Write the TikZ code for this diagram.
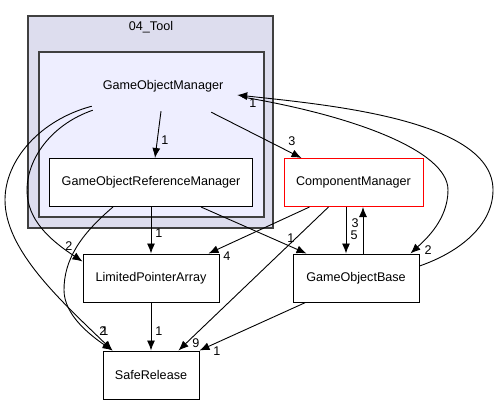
\documentclass[tikz,border=0pt]{standalone}
\usepackage{fontspec}
\setmainfont{Liberation Sans}
\usepackage{tikz}
\usetikzlibrary{calc}
\usetikzlibrary{arrows.meta}
\definecolor{clusterOut}{HTML}{DDDDEE}
\definecolor{clusterIn}{HTML}{EEEEFF}
\definecolor{clusterLine}{HTML}{404040}
\tikzset{
  cluster/.style = {draw=clusterLine, fill=#1, line width=1.6pt},
  box/.style = {draw=#1, fill=white, line width=1pt, minimum height=48pt, inner sep=0pt},
  plain/.style = {inner sep=0pt, minimum width=150pt, minimum height=50pt},
  dep/.style = {color=#1, line width=0.9pt, -{Latex[length=10pt,width=8pt]}},
  num/.style = {inner sep=0pt}
}

\begin{document}
\begin{tikzpicture}[x=1pt, y=-1pt, font=\fontsize{12.6}{15}\selectfont]

    \useasboundingbox (0,0) rectangle (498,404);

    % Clusters
    \draw[cluster={clusterOut}] (28,16) rectangle (273,228);
    \node[num] (toolLabel) at (151,27) {04\_Tool};
    \draw[cluster={clusterIn}] (39,52) rectangle (264,217);

    % Nodes
    \node[plain] (gom) at (163,86) {GameObjectManager};
    \node[box={black}, minimum width=203pt] (gorm) at (151,182.5) {GameObjectReferenceManager};
    \node[box={red}, minimum width=139pt] (cm) at (353.5,182.5) {ComponentManager};
    \node[box={black}, minimum width=126pt] (gob) at (356,278) {GameObjectBase};
    \node[box={black}, minimum width=136pt] (lpa) at (151,278) {LimitedPointerArray};
    \node[box={black}, minimum width=96pt] (sr) at (151,375) {SafeRelease};

    % Dependencies from GameObjectManager
    \draw[dep={black}] ($(gom.south)+(-2,0)$) -- ($(gorm.north)+(4,0)$);
    \draw[dep={black}] ($(gom.south east)+(-27,1)$) -- ($(cm.north west)+(18,0)$);
    \draw[dep={black}] ($(gom.east)+(4,11)$) .. controls (350,115) and (448,150) .. (448,190)
        .. controls (448,220) and (425,240) .. ($(gob.north east)+(-9,0)$);
    \draw[dep={black}] ($(gom.south west)+(5,-1)$) .. controls (50,125) and (27,160) .. (27,190)
        .. controls (27,220) and (50,240) .. ($(lpa.north west)+(0,8)$);
    \draw[dep={black}] ($(gom.south west)+(4,-5)$) .. controls (40,120) and (5,160) .. (5,200)
        .. controls (5,250) and (60,300) .. ($(sr.north west)+(10,0)$);

    % Dependencies from GameObjectReferenceManager
    \draw[dep={black}] (gorm) -- (lpa);
    \draw[dep={black}] ($(gorm.south)+(-38,0)$) .. controls (80,235) and (64,260) .. (64,290)
        .. controls (64,315) and (90,335) .. ($(sr.north west)+(10,0)$);
    \draw[dep={black}] ($(gorm.south east)+(-52,0)$) -- ($(gob.north west)+(14,0)$);

    % Dependencies from ComponentManager
    \draw[dep={black}] ($(cm.south west)+(26,0)$) -- ($(lpa.north east)+(-11,0)$);
    \draw[dep={black}] ($(cm.south west)+(45,0)$) -- ($(sr.north east)+(-21,0)$);
    \draw[dep={black}] ($(cm.south)+(-7.5,0)$) -- ($(gob.north)+(-10,0)$);

    % Dependencies from GameObjectBase
    \draw[dep={black}] ($(gob.north)+(7,0)$) -- ($(cm.south)+(9.5,0)$);
    \draw[dep={black}] ($(gob.south west)+(13,0)$) -- (sr.north east);
    \draw[dep={black}] ($(gob.east)+(0,-12)$) .. controls (460,252) and (493,225) .. (493,190)
        .. controls (493,120) and (330,105) .. ($(gom.east)+(-1,9)$);

    % Dependency from LimitedPointerArray
    \draw[dep={black}] (lpa) -- (sr);

    % Counts
    \node[num] (nGorm) at (165,140) {1};
    \node[num] (nCm) at (292,141) {3};
    \node[num] (nGobIn) at (428,250) {2};
    \node[num] (nLpa) at (69,246) {2};
    \node[num] (nSrA) at (103,331) {2};
    \node[num] (nSrB) at (105,331) {1};
    \node[num] (nGormLpa) at (159,233) {1};
    \node[num] (nGormGob) at (291,238) {1};
    \node[num] (nCmLpa) at (227,256) {4};
    \node[num] (nCmSr) at (196,343) {9};
    \node[num] (nCmGob) at (354,235) {5};
    \node[num] (nGobCm) at (355,223) {3};
    \node[num] (nGobSr) at (217,351) {1};
    \node[num] (nGom) at (253,103) {1};
    \node[num] (nLpaSr) at (159,331) {1};

\end{tikzpicture}
\end{document}
